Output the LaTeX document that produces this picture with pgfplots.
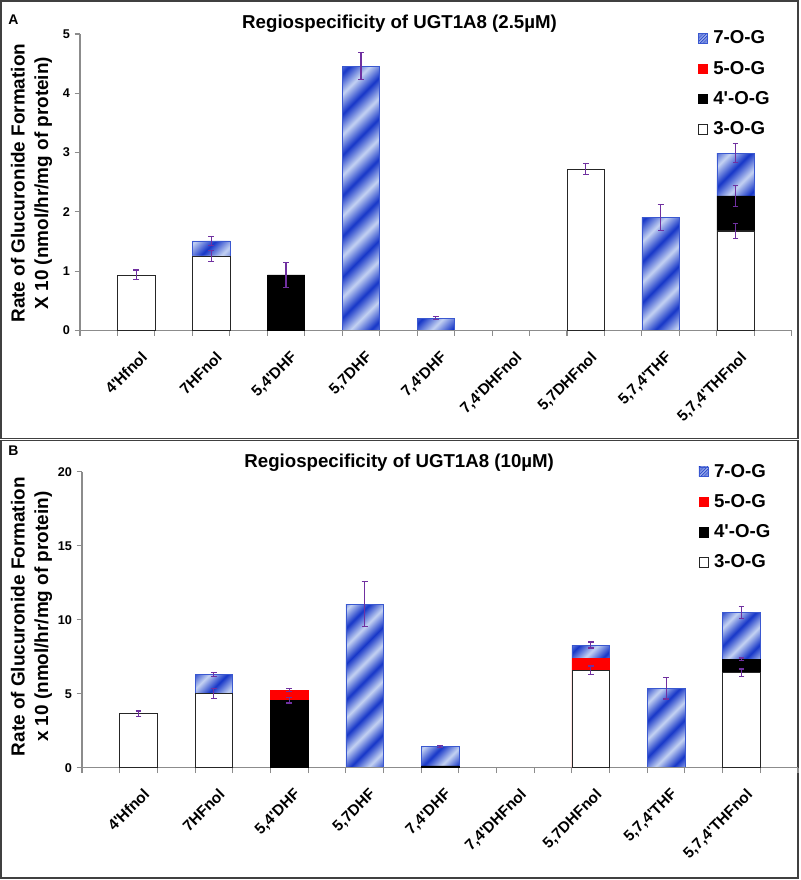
\documentclass[border=0pt]{standalone}
\usepackage{pgfplots}
\pgfplotsset{compat=1.18}
\usepackage{fontspec}
\setmainfont{Liberation Sans}
\setsansfont{Liberation Sans}

\definecolor{errpurple}{HTML}{7030A0}
\definecolor{sd}{HTML}{1636C8}
\definecolor{sl}{HTML}{C4D2F2}
\definecolor{stripeedge}{HTML}{3A58D0}
\definecolor{axisgray}{HTML}{8C8C8C}
\definecolor{framegray}{HTML}{404040}

% diagonal blue bands of the 7-O-G bars
\pgfdeclarehorizontalshading{ugtstripes}{100bp}{color(0bp)=(sd); color(1.75bp)=(sl); color(3.5bp)=(sd); color(5.25bp)=(sl); color(7bp)=(sd); color(8.75bp)=(sl); color(10.5bp)=(sd); color(12.25bp)=(sl); color(14bp)=(sd); color(15.75bp)=(sl); color(17.5bp)=(sd); color(19.25bp)=(sl); color(21bp)=(sd); color(22.75bp)=(sl); color(24.5bp)=(sd); color(26.25bp)=(sl); color(28bp)=(sd); color(29.75bp)=(sl); color(31.5bp)=(sd); color(33.25bp)=(sl); color(35bp)=(sd); color(36.75bp)=(sl); color(38.5bp)=(sd); color(40.25bp)=(sl); color(42bp)=(sd); color(43.75bp)=(sl); color(45.5bp)=(sd); color(47.25bp)=(sl); color(49bp)=(sd); color(50.75bp)=(sl); color(52.5bp)=(sd); color(54.25bp)=(sl); color(56bp)=(sd); color(57.75bp)=(sl); color(59.5bp)=(sd); color(61.25bp)=(sl); color(63bp)=(sd); color(64.75bp)=(sl); color(66.5bp)=(sd); color(68.25bp)=(sl); color(70bp)=(sd); color(71.75bp)=(sl); color(73.5bp)=(sd); color(75.25bp)=(sl); color(77bp)=(sd); color(78.75bp)=(sl); color(80.5bp)=(sd); color(82.25bp)=(sl); color(84bp)=(sd); color(85.75bp)=(sl); color(87.5bp)=(sd); color(89.25bp)=(sl); color(91bp)=(sd); color(92.75bp)=(sl); color(94.5bp)=(sd); color(96.25bp)=(sl); color(98bp)=(sd); color(99.75bp)=(sl); color(100bp)=(sl)}

\newcommand{\q}{\textquotesingle}

\pgfplotsset{
  ugt base/.style={
    scale only axis, xmin=0, xmax=19, ymin=0,
    axis x line*=bottom, axis y line*=left,
    axis line style={-, axisgray, line width=0.8pt},
    tick style={axisgray, line width=0.8pt},
    tick align=outside, major tick length=4pt, minor tick length=4pt,
    major x tick style={draw=none},
    xtick={1.5,3.5,5.5,7.5,9.5,11.5,13.5,15.5,17.5},
    minor xtick={0,1,...,19},
    xticklabels={{4\q Hfnol},{7HFnol},{5,4\q DHF},{5,7DHF},{7,4\q DHF},{7,4\q DHFnol},{5,7DHFnol},{5,7,4\q THF},{5,7,4\q THFnol}},
    /pgf/number format/assume math mode=true,
    yticklabel style={font=\fontsize{9.5}{11}\selectfont\bfseries},
    xticklabel style={font=\fontsize{11.5}{13}\selectfont\bfseries, xshift=3pt, yshift=-6pt, rotate=45, anchor=north east},
    ylabel style={font=\fontsize{14.2}{17.6}\selectfont\bfseries, align=center, anchor=center},
    every axis title shift=0pt,
    title style={font=\fontsize{14}{16}\selectfont\bfseries, anchor=base},
    legend image code/.code={\draw[#1] (0cm,-0.125cm) rectangle (0.25cm,0.125cm);},
    legend style={draw=none, fill=none, anchor=north west, row sep=7.4pt,
      font=\fontsize{14}{16}\selectfont\bfseries, inner sep=1pt,
      /tikz/every odd column/.append style={column sep=2pt}},
    legend cell align=left,
  },
  ugt bars/.style={ybar, bar width=1, bar shift=0},
  ugt err/.style={forget plot, draw=none, mark=none,
    error bars/.cd, y dir=both, y explicit,
    error bar style={draw=errpurple, line width=0.9pt},
    error mark options={draw=errpurple, rotate=90, mark size=2.2pt, line width=0.9pt}},
  ugt seven/.style={draw=stripeedge, shade, shading=ugtstripes, shading angle=-45},
}

\begin{document}
\begin{tikzpicture}
\useasboundingbox (0,0) rectangle (600pt,660pt);
\draw[framegray, line width=1.2pt] (0.75pt,331pt) rectangle (598.5pt,659.25pt);
\draw[framegray, line width=1.2pt] (0.75pt,1.5pt) rectangle (598.5pt,329.5pt);
\node[font=\fontsize{10.5}{12}\selectfont\bfseries] at (10pt,645.5pt) {A};
\node[font=\fontsize{10.5}{12}\selectfont\bfseries] at (10pt,322pt) {B};

% ---------- panel A : 7-O-G segments (stacked on an invisible base)
\begin{axis}[scale only axis, width=533.8pt, height=222.4pt, at={(60pt,412.1pt)}, anchor=south west,
  xmin=0, xmax=19, ymin=0, ymax=5, hide axis, ybar stacked, bar width=1]
\addplot[draw=none, fill=none] coordinates {(3.5,1.26) (7.5,0) (9.5,0) (15.5,0) (17.5,2.27)};
\addplot[ugt seven] coordinates {(3.5,0.25) (7.5,4.46) (9.5,0.21) (15.5,1.91) (17.5,0.72)};
\end{axis}

% ---------- panel A : other segments, errors, legend
\begin{axis}[ugt base, width=533.8pt, height=222.4pt, at={(60pt,412.1pt)}, anchor=south west,
  ymax=5, ytick={0,1,2,3,4,5},
  title={Regiospecificity of UGT1A8 (2.5µM)},
  title style={at={(0.449,1)}, yshift=4.3pt},
  ylabel={Rate of Glucuronide Formation\\X 10 (nmol/hr/mg of protein)},
  ylabel style={at={(axis description cs:-0.0681,0.497)}},
  legend style={at={(rel axis cs:0.866,1.025)}},
]
\addlegendimage{ugt seven}
\addlegendimage{fill=red, draw=red}
% 4'-O-G (top of 3-O-G + 4'-O-G)
\addplot[ugt bars, fill=black, draw=black] coordinates {(5.5,0.94) (17.5,2.27)};
% 3-O-G
\addplot[ugt bars, fill=white, draw=black!85] coordinates {(1.5,0.94) (3.5,1.26) (13.5,2.72) (17.5,1.68)};
% error bars at the top of each segment
\addplot[ugt err] coordinates {
  (1.5,0.94) +- (0,0.08)
  (3.5,1.26) +- (0,0.09)
  (3.5,1.51) +- (0,0.08)
  (5.5,0.94) +- (0,0.21)
  (7.5,4.46) +- (0,0.23)
  (9.5,0.21) +- (0,0.03)
  (13.5,2.72) +- (0,0.09)
  (15.5,1.91) +- (0,0.22)
  (17.5,1.68) +- (0,0.13)
  (17.5,2.27) +- (0,0.18)
  (17.5,2.99) +- (0,0.16)
};
\legend{7-O-G,5-O-G,4\q-O-G,3-O-G}
\end{axis}

% ---------- panel B : 7-O-G segments
\begin{axis}[scale only axis, width=537pt, height=222pt, at={(61.5pt,84.2pt)}, anchor=south west,
  xmin=0, xmax=19, ymin=0, ymax=20, hide axis, ybar stacked, bar width=1]
\addplot[draw=none, fill=none] coordinates {(3.5,5.0) (7.5,0) (9.5,0.12) (13.5,7.39) (15.5,0) (17.5,7.32)};
\addplot[ugt seven] coordinates {(3.5,1.31) (7.5,11.06) (9.5,1.30) (13.5,0.90) (15.5,5.36) (17.5,3.18)};
\end{axis}

% ---------- panel B : other segments, errors, legend
\begin{axis}[ugt base, width=537pt, height=222pt, at={(61.5pt,84.2pt)}, anchor=south west,
  ymax=20, ytick={0,5,10,15,20},
  title={Regiospecificity of UGT1A8 (10µM)},
  title style={at={(0.443,1)}, yshift=3.3pt},
  ylabel={Rate of Glucuronide Formation\\x 10 (nmol/hr/mg of protein)},
  ylabel style={at={(axis description cs:-0.0705,0.51)}},
  legend style={at={(rel axis cs:0.859,1.04)}},
]
\addlegendimage{ugt seven}
% 5-O-G (top of 3 + 4' + 5)
\addplot[ugt bars, fill=red, draw=red] coordinates {(5.5,5.25) (13.5,7.39)};
% 4'-O-G (top of 3 + 4')
\addplot[ugt bars, fill=black, draw=black] coordinates {(5.5,4.57) (9.5,0.12) (17.5,7.32)};
% 3-O-G
\addplot[ugt bars, fill=white, draw=black!85] coordinates {(1.5,3.65) (3.5,5.0) (13.5,6.6) (17.5,6.42)};
\addplot[ugt err] coordinates {
  (1.5,3.65) +- (0,0.19)
  (3.5,5.0) +- (0,0.34)
  (3.5,6.31) +- (0,0.12)
  (5.5,4.57) +- (0,0.2)
  (5.5,5.25) +- (0,0.08)
  (7.5,11.06) +- (0,1.53)
  (9.5,1.42) +- (0,0.07)
  (13.5,6.6) +- (0,0.28)
  (13.5,8.29) +- (0,0.2)
  (15.5,5.36) +- (0,0.72)
  (17.5,6.42) +- (0,0.25)
  (17.5,7.32) +- (0,0.1)
  (17.5,10.5) +- (0,0.4)
};
\legend{7-O-G,5-O-G,4\q-O-G,3-O-G}
\end{axis}
\end{tikzpicture}
\end{document}
